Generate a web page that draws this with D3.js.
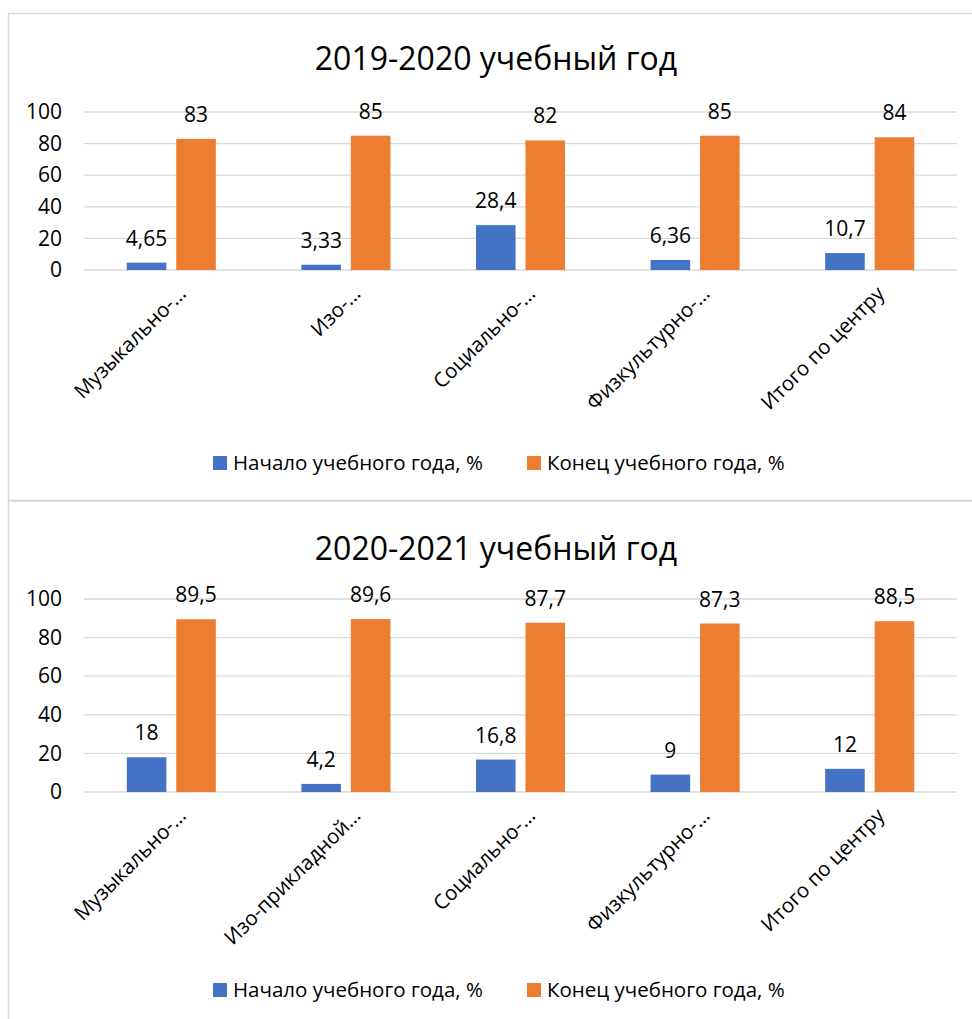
<!DOCTYPE html>
<html>
<head>
<meta charset="utf-8">
<script src="https://cdn.jsdelivr.net/npm/d3@7"></script>
<style>
  body { margin: 0; background: #fff; }
  text { font-family: "Open Sans", sans-serif; fill: #000; }
</style>
</head>
<body>
<script>
const categories1 = ["Музыкально-…", "Изо-…", "Социально-…", "Физкультурно-…", "Итого по центру"];
const categories2 = ["Музыкально-…", "Изо-прикладной…", "Социально-…", "Физкультурно-…", "Итого по центру"];
const seriesNames = ["Начало учебного года, %", "Конец учебного года, %"];
const start1 = [4.65, 3.33, 28.4, 6.36, 10.7];
const end1 = [83, 85, 82, 85, 84];
const start2 = [18, 4.2, 16.8, 9, 12];
const end2 = [89.5, 89.6, 87.7, 87.3, 88.5];
const yTicks = [0, 20, 40, 60, 80, 100];

const w = 972;
const h = 1019;
const colors = ["#4472C4", "#ED7D31"];

const svg = d3.select("body")
              .append("svg")
              .attr("width", w)
              .attr("height", h);

// chart frames
svg.append("rect")
   .attr("x", 8.5).attr("y", 13.5)
   .attr("width", 1000).attr("height", 487)
   .attr("fill", "none").attr("stroke", "#d9d9d9").attr("stroke-width", 1.5);
svg.append("rect")
   .attr("x", 8.5).attr("y", 501)
   .attr("width", 1000).attr("height", 600)
   .attr("fill", "none").attr("stroke", "#d9d9d9").attr("stroke-width", 1.5);

const fmt = v => String(v).replace(".", ",");

function drawChart(cfg) {
   const g = svg.append("g");

   g.append("text")
    .text(cfg.title)
    .attr("x", 496)
    .attr("y", cfg.titleY)
    .attr("text-anchor", "middle")
    .attr("font-size", "32px");

   const x0 = d3.scaleBand()
                .domain(cfg.categories)
                .range([84, 957])
                .paddingInner(0.49)
                .paddingOuter(0.245);
   const x1 = d3.scaleBand()
                .domain([0, 1])
                .range([0, x0.bandwidth()])
                .paddingInner(0.2);
   const y = d3.scaleLinear()
               .domain([0, 100])
               .range([cfg.bottom, cfg.top]);

   // gridlines
   g.selectAll(".grid")
    .data(yTicks)
    .enter()
    .append("line")
    .attr("x1", 84).attr("x2", 957)
    .attr("y1", d => y(d)).attr("y2", d => y(d))
    .attr("stroke", "#d9d9d9")
    .attr("stroke-width", 1.3);

   const yAxis = d3.axisLeft(y).tickValues(yTicks).tickSize(0).tickPadding(0);
   const ya = g.append("g")
               .attr("transform", "translate(62,0)")
               .call(yAxis);
   ya.select(".domain").remove();
   ya.selectAll("text").attr("font-size", "21px").attr("font-family", "Open Sans");

   const rows = cfg.categories.map((c, i) => ({ cat: c, vals: [cfg.start[i], cfg.end[i]] }));

   const grp = g.selectAll(".cat")
                .data(rows)
                .enter()
                .append("g")
                .attr("transform", d => `translate(${x0(d.cat)},0)`);

   grp.selectAll("rect")
      .data(d => d.vals.map((v, s) => ({ v, s })))
      .enter()
      .append("rect")
      .attr("x", d => x1(d.s))
      .attr("width", x1.bandwidth())
      .attr("y", d => y(d.v))
      .attr("height", d => y(0) - y(d.v))
      .attr("fill", d => colors[d.s]);

   grp.selectAll(".lbl")
      .data(d => d.vals.map((v, s) => ({ v, s })))
      .enter()
      .append("text")
      .attr("x", d => x1(d.s) + x1.bandwidth() / 2)
      .attr("y", d => y(d.v) - 17)
      .attr("text-anchor", "middle")
      .attr("font-size", "21px")
      .text(d => fmt(d.v));

   // category labels, rotated
   g.selectAll(".xl")
    .data(cfg.categories)
    .enter()
    .append("text")
    .attr("transform", d => `translate(${x0(d) + x0.bandwidth() / 2 + 16},${cfg.bottom + 25}) rotate(-45)`)
    .attr("text-anchor", "end")
    .attr("font-size", "20.5px")
    .text(d => d);

   // legend
   const legendX = [213, 527];
   const leg = g.selectAll(".leg")
                .data(seriesNames)
                .enter()
                .append("g")
                .attr("transform", (d, i) => `translate(${legendX[i]},${cfg.legendY})`);
   leg.append("rect")
      .attr("y", -7).attr("width", 14).attr("height", 14)
      .attr("fill", (d, i) => colors[i]);
   leg.append("text")
      .attr("x", 20)
      .attr("dy", "0.35em")
      .attr("font-size", "20.5px")
      .text(d => d);
}

drawChart({ title: "2019-2020 учебный год", titleY: 70, top: 112, bottom: 270,
            categories: categories1, start: start1, end: end1, legendY: 463 });
drawChart({ title: "2020-2021 учебный год", titleY: 560, top: 599, bottom: 792,
            categories: categories2, start: start2, end: end2, legendY: 990 });
</script>
</body>
</html>
